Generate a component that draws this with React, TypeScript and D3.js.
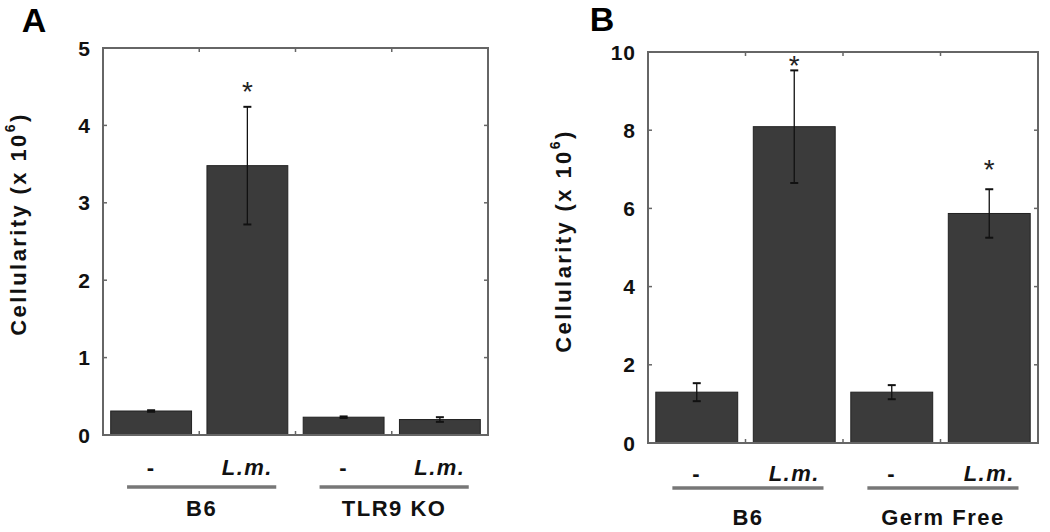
import React from "react";
import * as d3 from "d3";

// ---- Data ----
const treatments = ["-", "L.m.", "-", "L.m."];

const panelAGroups = ["B6", "TLR9 KO"];
const panelAValues = [0.31, 3.48, 0.23, 0.2];
const panelAErrors = [0.01, 0.76, 0.01, 0.03];
const panelAStars = [null, 4.48, null, null];
const panelATicks = [0, 1, 2, 3, 4, 5];

const panelBGroups = ["B6", "Germ Free"];
const panelBValues = [1.3, 8.09, 1.3, 5.87];
const panelBErrors = [0.23, 1.44, 0.18, 0.62];
const panelBStars = [null, 9.74, null, 7.08];
const panelBTicks = [0, 2, 4, 6, 8, 10];

const FONT = "'Liberation Sans', Arial, Helvetica, sans-serif";

type PanelProps = {
  letter: string;
  letterX: number;
  letterY: number;
  left: number;
  right: number;
  top: number;
  bottom: number;
  yMax: number;
  ticks: number[];
  values: number[];
  errors: number[];
  stars: (number | null)[];
  groups: string[];
  titleX: number;
  titleY: number;
  treatY: number;
  lineY: number;
  groupY: number;
};

function Panel(p: PanelProps) {
  const x = d3.scaleLinear().domain([0.5, 4.5]).range([p.left, p.right]);
  const y = d3.scaleLinear().domain([0, p.yMax]).range([p.bottom, p.top]);
  const bw = x(1.42) - x(0.58);
  const boundaries = [1.5, 2.5, 3.5];
  const boxColor = "#666";
  return (
    <g>
      <text x={p.letterX} y={p.letterY} fontFamily={FONT} fontWeight="bold" fontSize={34} textAnchor="middle">
        {p.letter}
      </text>
      {/* bars */}
      {p.values.map((v, i) => (
        <rect
          key={"b" + i}
          x={x(i + 1) - bw / 2}
          y={y(v)}
          width={bw}
          height={y(0) - y(v)}
          fill="#3b3b3b"
          stroke="#222"
          strokeWidth={1}
        />
      ))}
      {/* error bars */}
      {p.values.map((v, i) => {
        const cx = x(i + 1);
        const hi = y(v + p.errors[i]);
        const lo = y(v - p.errors[i]);
        return (
          <g key={"e" + i} stroke="#111" strokeWidth={1.3}>
            <line x1={cx} x2={cx} y1={hi} y2={lo} />
            <line x1={cx - 4} x2={cx + 4} y1={hi} y2={hi} strokeWidth={2} />
            <line x1={cx - 4} x2={cx + 4} y1={lo} y2={lo} strokeWidth={2} />
          </g>
        );
      })}
      {/* stars */}
      {p.stars.map((s, i) =>
        s == null ? null : (
          <text
            key={"s" + i}
            x={x(i + 1)}
            y={y(s) + 13}
            fontFamily={FONT}
            fontSize={28}
            textAnchor="middle"
            fill="#222"
          >
            *
          </text>
        )
      )}
      {/* box */}
      <rect
        x={p.left}
        y={p.top}
        width={p.right - p.left}
        height={p.bottom - p.top}
        fill="none"
        stroke={boxColor}
        strokeWidth={2}
      />
      {/* y ticks inside both sides */}
      {p.ticks.map((t) => (
        <g key={"yt" + t} stroke={boxColor} strokeWidth={1.5}>
          <line x1={p.left} x2={p.left + 4} y1={y(t)} y2={y(t)} />
          <line x1={p.right} x2={p.right - 4} y1={y(t)} y2={y(t)} />
        </g>
      ))}
      {/* x ticks at boundaries */}
      {boundaries.map((b) => (
        <g key={"xt" + b} stroke={boxColor} strokeWidth={1.5}>
          <line x1={x(b)} x2={x(b)} y1={p.top} y2={p.top + 4} />
          <line x1={x(b)} x2={x(b)} y1={p.bottom} y2={p.bottom - 4} />
        </g>
      ))}
      {/* y tick labels */}
      {p.ticks.map((t) => (
        <text
          key={"yl" + t}
          x={p.left - 12}
          y={y(t)}
          dy="0.36em"
          fontFamily={FONT}
          fontWeight="bold"
          fontSize={21}
          letterSpacing={1}
          textAnchor="end"
          fill="#111"
        >
          {t}
        </text>
      ))}
      {/* y title */}
      <text
        transform={`translate(${p.titleX},${p.titleY}) rotate(-90)`}
        fontFamily={FONT}
        fontWeight="bold"
        fontSize={22}
        letterSpacing={2.4}
        textAnchor="middle"
        dy="0.36em"
        fill="#111"
      >
        Cellularity (x 10
        <tspan fontSize={14} dy="-0.75em">6</tspan>
        <tspan dy="0.48em">)</tspan>
      </text>
      {/* treatment labels */}
      {treatments.map((t, i) => (
        <text
          key={"tr" + i}
          x={x(i + 1)}
          y={p.treatY}
          dy="0.36em"
          fontFamily={FONT}
          fontWeight="bold"
          fontStyle={t === "-" ? "normal" : "italic"}
          fontSize={22}
          letterSpacing={1.5}
          textAnchor="middle"
          fill="#111"
        >
          {t}
        </text>
      ))}
      {/* group lines and labels */}
      {p.groups.map((g, gi) => {
        const a = x(gi * 2 + 1 - 0.25);
        const b = x(gi * 2 + 2 + 0.3);
        return (
          <g key={"g" + gi}>
            <line x1={a} x2={b} y1={p.lineY} y2={p.lineY} stroke="#777" strokeWidth={3.5} />
            <text
              x={(a + b) / 2}
              y={p.groupY}
              dy="0.36em"
              fontFamily={FONT}
              fontWeight="bold"
              fontSize={22}
              letterSpacing={1.5}
              textAnchor="middle"
              fill="#111"
            >
              {g}
            </text>
          </g>
        );
      })}
    </g>
  );
}

export default function App() {
  return (
    <svg
      width={1050}
      height={532}
      style={{ position: "absolute", left: 0, top: 0, background: "#fff" }}
    >
      <rect width={1050} height={532} fill="#fff" />
      <Panel
        letter="A"
        letterX={34}
        letterY={32}
        left={103}
        right={488}
        top={48}
        bottom={435}
        yMax={5}
        ticks={panelATicks}
        values={panelAValues}
        errors={panelAErrors}
        stars={panelAStars}
        groups={panelAGroups}
        titleX={18}
        titleY={224}
        treatY={467}
        lineY={487}
        groupY={508}
      />
      <Panel
        letter="B"
        letterX={602}
        letterY={31}
        left={648}
        right={1038}
        top={52}
        bottom={443}
        yMax={10}
        ticks={panelBTicks}
        values={panelBValues}
        errors={panelBErrors}
        stars={panelBStars}
        groups={panelBGroups}
        titleX={563}
        titleY={241}
        treatY={473}
        lineY={488}
        groupY={517}
      />
    </svg>
  );
}
